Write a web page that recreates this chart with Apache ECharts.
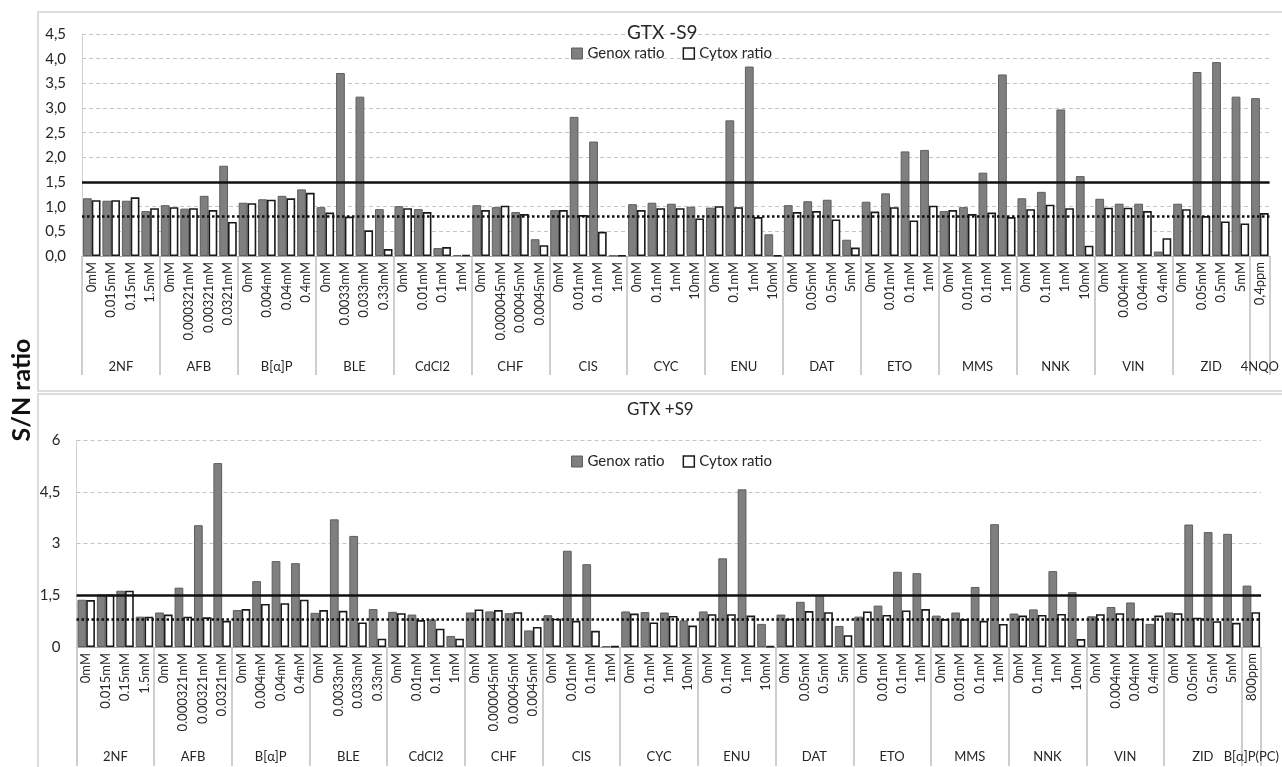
<!DOCTYPE html>
<html>
<head>
<meta charset="utf-8">
<title>GTX S/N ratio</title>
<script src="https://cdn.jsdelivr.net/npm/echarts@6/dist/echarts.min.js"></script>
<style>
  html, body { margin: 0; padding: 0; background: #fff; }
  #chart { width: 1282px; height: 767px; }
</style>
</head>
<body>
<div id="chart"></div>
<script>
// Test compounds (groups) for the two assay conditions
const groupsMinusS9 = ['2NF', 'AFB', 'B[α]P', 'BLE', 'CdCl2', 'CHF', 'CIS', 'CYC', 'ENU', 'DAT', 'ETO', 'MMS', 'NNK', 'VIN', 'ZID', '4NQO'];
const groupsPlusS9  = ['2NF', 'AFB', 'B[α]P', 'BLE', 'CdCl2', 'CHF', 'CIS', 'CYC', 'ENU', 'DAT', 'ETO', 'MMS', 'NNK', 'VIN', 'ZID', 'B[α]P(PC)'];

// Doses tested for each compound (same for both conditions, except the positive control)
const doses = [
  ['0mM', '0.015mM', '0.15mM', '1.5mM'],
  ['0mM', '0.000321mM', '0.00321mM', '0.0321mM'],
  ['0mM', '0.004mM', '0.04mM', '0.4mM'],
  ['0mM', '0.0033mM', '0.033mM', '0.33mM'],
  ['0mM', '0.01mM', '0.1mM', '1mM'],
  ['0mM', '0.000045mM', '0.00045mM', '0.0045mM'],
  ['0mM', '0.01mM', '0.1mM', '1mM'],
  ['0mM', '0.1mM', '1mM', '10mM'],
  ['0mM', '0.1mM', '1mM', '10mM'],
  ['0mM', '0.05mM', '0.5mM', '5mM'],
  ['0mM', '0.01mM', '0.1mM', '1mM'],
  ['0mM', '0.01mM', '0.1mM', '1mM'],
  ['0mM', '0.1mM', '1mM', '10mM'],
  ['0mM', '0.004mM', '0.04mM', '0.4mM'],
  ['0mM', '0.05mM', '0.5mM', '5mM']
];
const controlDoseMinusS9 = ['0,4ppm'];
const controlDosePlusS9  = ['800ppm'];

// GTX -S9 ratios
const genoxMinusS9 = [
  1.17, 1.12, 1.12, 0.91,
  1.03, 0.96, 1.22, 1.83,
  1.08, 1.15, 1.22, 1.35,
  0.99, 3.71, 3.23, 0.95,
  1.01, 0.95, 0.16, 0.02,
  1.03, 0.99, 0.89, 0.34,
  0.93, 2.82, 2.32, 0.01,
  1.05, 1.08, 1.06, 1.00,
  0.98, 2.75, 3.84, 0.44,
  1.03, 1.11, 1.14, 0.33,
  1.10, 1.27, 2.12, 2.15,
  0.91, 0.99, 1.69, 3.68,
  1.17, 1.30, 2.97, 1.62,
  1.16, 1.06, 1.06, 0.09,
  1.06, 3.73, 3.93, 3.23,
  3.20
];
const cytoxMinusS9 = [
  1.13, 1.13, 1.19, 0.97,
  0.99, 0.97, 0.93, 0.69,
  1.07, 1.14, 1.17, 1.28,
  0.88, 0.80, 0.52, 0.14,
  0.97, 0.89, 0.18, 0.02,
  0.93, 1.02, 0.85, 0.22,
  0.93, 0.83, 0.49, 0.01,
  0.93, 0.97, 0.97, 0.76,
  1.01, 0.99, 0.79, 0.01,
  0.89, 0.91, 0.74, 0.17,
  0.90, 0.99, 0.72, 1.02,
  0.93, 0.85, 0.88, 0.79,
  0.95, 1.04, 0.97, 0.21,
  0.98, 0.98, 0.91, 0.36,
  0.95, 0.81, 0.70, 0.66,
  0.87
];

// GTX +S9 ratios
const genoxPlusS9 = [
  1.37, 1.52, 1.63, 0.88,
  1.00, 1.72, 3.53, 5.33,
  1.07, 1.91, 2.49, 2.43,
  0.99, 3.70, 3.22, 1.10,
  1.02, 0.94, 0.80, 0.32,
  1.00, 1.03, 0.98, 0.48,
  0.92, 2.79, 2.40, 0.02,
  1.03, 1.01, 1.00, 0.77,
  1.03, 2.57, 4.57, 0.67,
  0.94, 1.31, 1.51, 0.61,
  0.88, 1.20, 2.18, 2.14,
  0.91, 1.00, 1.74, 3.56,
  0.97, 1.09, 2.20, 1.59,
  0.89, 1.16, 1.29, 0.67,
  1.00, 3.55, 3.33, 3.28,
  1.78
];
const cytoxPlusS9 = [
  1.36, 1.52, 1.63, 0.88,
  0.94, 0.88, 0.86, 0.76,
  1.10, 1.25, 1.27, 1.37,
  1.07, 1.05, 0.71, 0.24,
  0.98, 0.78, 0.53, 0.24,
  1.09, 1.07, 1.01, 0.58,
  0.82, 0.76, 0.47, 0.02,
  0.97, 0.71, 0.90, 0.62,
  0.95, 0.95, 0.91, 0.02,
  0.82, 1.04, 1.01, 0.34,
  1.03, 0.93, 1.06, 1.10,
  0.81, 0.81, 0.76, 0.67,
  0.91, 0.93, 0.96, 0.23,
  0.95, 0.98, 0.82, 0.91,
  0.98, 0.85, 0.75, 0.70,
  1.01
];

// Reference levels: genotoxicity threshold (solid) and cytotoxicity threshold (dotted)
const genoxThreshold = 1.5;
const cytoxThreshold = 0.8;

const FONT = 'Lato, "Open Sans", "DejaVu Sans", sans-serif';
const TEXT = '#262626';
const GENOX = '#7f7f7f';

// Flatten dose labels into one category list per panel
function doseCategories(control) {
  return doses.flat().concat(control);
}
// Group sizes (4 doses per compound, one for the control)
function groupSizes(groups) {
  return groups.map((g, i) => (i < doses.length ? doses[i].length : 1));
}
// Build a second, half-step axis that carries group names and group separators
function groupAxis(groups) {
  const sizes = groupSizes(groups);
  const n = sizes.reduce((a, b) => a + b, 0);
  const data = new Array(2 * n + 1).fill('');
  const ticks = new Set();
  let start = 0;
  sizes.forEach((len, i) => {
    ticks.add(2 * start);
    data[2 * start + len] = groups[i];
    start += len;
  });
  ticks.add(2 * n);
  return { data, ticks };
}

const catsMinus = doseCategories(controlDoseMinusS9);
const catsPlus = doseCategories(controlDosePlusS9);
const gMinus = groupAxis(groupsMinusS9);
const gPlus = groupAxis(groupsPlusS9);

function doseAxis(gridIndex, cats) {
  return {
    type: 'category', gridIndex, position: 'bottom', data: cats,
    axisLine: { show: true, lineStyle: { color: '#a6a6a6', width: 1 } },
    axisTick: { show: false },
    axisLabel: { interval: 0, rotate: 90, margin: 6, fontSize: 13, color: TEXT, fontFamily: FONT },
    splitLine: { show: false }
  };
}
function groupNameAxis(gridIndex, g, margin) {
  return {
    type: 'category', gridIndex, position: 'bottom', boundaryGap: false, data: g.data,
    axisLine: { show: false },
    axisTick: { show: true, length: 119, interval: (idx) => g.ticks.has(idx), lineStyle: { color: '#bfbfbf', width: 1.5 } },
    axisLabel: { interval: 0, margin, fontSize: 13, color: TEXT, fontFamily: FONT },
    splitLine: { show: false }
  };
}
function valueAxis(gridIndex, max, interval, fmt) {
  return {
    type: 'value', gridIndex, min: 0, max, interval,
    axisLine: { show: true, lineStyle: { color: '#d0d0d0', width: 1 } },
    axisTick: { show: false },
    axisLabel: { margin: 16, fontSize: 15, color: TEXT, fontFamily: FONT, formatter: fmt },
    splitLine: { show: true, lineStyle: { color: '#c4c4c4', type: [4, 3], width: 1 } }
  };
}
function thresholdLines() {
  return {
    silent: true, symbol: 'none', label: { show: false },
    data: [
      { yAxis: genoxThreshold, lineStyle: { type: 'solid', color: '#111', width: 2.5 } },
      { yAxis: cytoxThreshold, lineStyle: { type: 'dotted', color: '#111', width: 2.5 } }
    ]
  };
}
function barSeries(name, xi, yi, data, isGenox, withLines) {
  const s = {
    name, type: 'bar', xAxisIndex: xi, yAxisIndex: yi, data,
    barGap: '0%', barCategoryGap: '10%',
    itemStyle: isGenox
      ? { color: GENOX, borderColor: '#5e5e5e', borderWidth: 1 }
      : { color: '#ffffff', borderColor: '#1a1a1a', borderWidth: 1.6 },
    emphasis: { disabled: true }
  };
  if (withLines) s.markLine = thresholdLines();
  return s;
}
function legend(top) {
  return {
    top, left: 566, itemWidth: 11, itemHeight: 11, itemGap: 18, icon: 'rect',
    textStyle: { fontSize: 15, color: TEXT, fontFamily: FONT },
    data: [
      { name: 'Genox ratio', itemStyle: { color: GENOX, borderColor: '#5e5e5e', borderWidth: 1 } },
      { name: 'Cytox ratio', itemStyle: { color: '#fff', borderColor: '#1a1a1a', borderWidth: 1.5 } }
    ],
    selectedMode: false
  };
}

const chart = echarts.init(document.getElementById('chart'), null, { renderer: 'canvas' });
chart.setOption({
  animation: false,
  backgroundColor: '#ffffff',
  textStyle: { fontFamily: FONT },
  title: [
    { text: 'GTX -S9', left: 622, top: 18, textStyle: { fontSize: 19, fontWeight: 'normal', color: TEXT, fontFamily: FONT } },
    { text: 'GTX +S9', left: 622, top: 396, textStyle: { fontSize: 17, fontWeight: 'normal', color: TEXT, fontFamily: FONT } }
  ],
  legend: [legend(41), legend(449)],
  grid: [
    { left: 82, top: 34, width: 1190, height: 222 },
    { left: 76.5, top: 440, width: 1190, height: 207 }
  ],
  xAxis: [
    doseAxis(0, catsMinus),
    groupNameAxis(0, gMinus, 104),
    doseAxis(1, catsPlus),
    groupNameAxis(1, gPlus, 103)
  ],
  yAxis: [
    valueAxis(0, 4.5, 0.5, (v) => v.toFixed(1).replace('.', ',')),
    valueAxis(1, 6, 1.5, (v) => String(v).replace('.', ','))
  ],
  series: [
    barSeries('Genox ratio', 0, 0, genoxMinusS9, true, true),
    barSeries('Cytox ratio', 0, 0, cytoxMinusS9, false, false),
    barSeries('Genox ratio', 2, 1, genoxPlusS9, true, true),
    barSeries('Cytox ratio', 2, 1, cytoxPlusS9, false, false)
  ],
  graphic: [
    { type: 'rect', z: -10, shape: { x: 38, y: 12, width: 1262, height: 379 }, style: { fill: 'none', stroke: '#dcdcdc', lineWidth: 2 } },
    { type: 'rect', z: -10, shape: { x: 38, y: 394, width: 1262, height: 400 }, style: { fill: 'none', stroke: '#dcdcdc', lineWidth: 2 } },
    { type: 'text', x: 22, y: 390, rotation: Math.PI / 2,
      style: { text: 'S/N ratio', fill: '#111', font: 'bold 25px ' + FONT, textAlign: 'center', textVerticalAlign: 'middle' } }
  ]
});
</script>
</body>
</html>
